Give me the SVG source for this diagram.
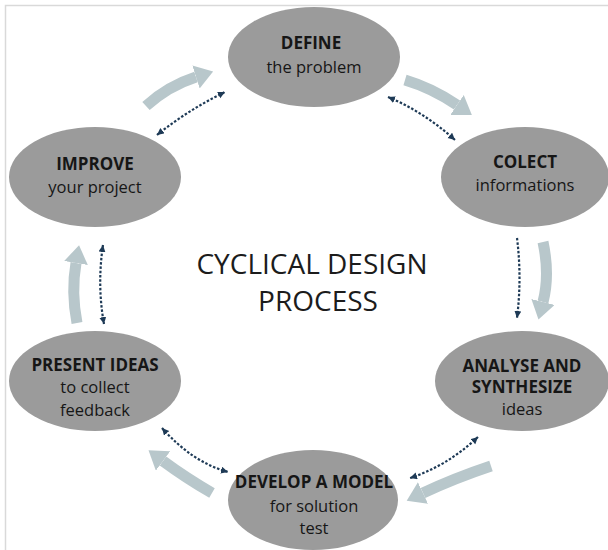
<svg xmlns="http://www.w3.org/2000/svg" width="608" height="550" viewBox="0 0 608 550">
  <defs>
    <style>
      .node ellipse { fill: #9b9b9b; }
      .node text { font-family: "Open Sans", "Liberation Sans", sans-serif; font-size: 16.5px; fill: #161616; text-anchor: middle; }
      .node .head { font-weight: 700; font-size: 17px; }
      .flow { fill: none; stroke: #b8c7cb; stroke-width: 11; }
      .link { fill: none; stroke: #1e3a56; stroke-width: 2.2; stroke-dasharray: 2.5 1.8; }
      .title { font-family: "Open Sans", "Liberation Sans", sans-serif; font-size: 28px; fill: #1c1c1c; text-anchor: middle; }
    </style>
    <marker id="flowHead" markerUnits="userSpaceOnUse" markerWidth="20" markerHeight="24" refX="0" refY="12" orient="auto">
      <path d="M0,0 L18,12 L0,24 z" fill="#b8c7cb"/>
    </marker>
    <marker id="linkHead" markerUnits="userSpaceOnUse" markerWidth="8" markerHeight="8" refX="7" refY="3.5" orient="auto-start-reverse">
      <path d="M0,0 L7,3.5 L0,7 z" fill="#1e3a56"/>
    </marker>
  </defs>

  <rect width="608" height="550" fill="#ffffff"/>
  <!-- frame edges -->
  <path d="M5.5,550 V5.5 H608" fill="none" stroke="#d9d9d9" stroke-width="1.5"/>

  <!-- connectors -->
  <g id="connectors">
    <!-- main cycle flow -->
    <path class="flow" d="M146,106 Q168,86 196,77" marker-end="url(#flowHead)"/>
    <path class="flow" d="M405,80 Q432,88 457,105" marker-end="url(#flowHead)"/>
    <path class="flow" d="M543,242 Q550,275 543,302" marker-end="url(#flowHead)"/>
    <path class="flow" d="M491,466 Q455,478 423,493" marker-end="url(#flowHead)"/>
    <path class="flow" d="M212,493 Q186,478 163,461" marker-end="url(#flowHead)"/>
    <path class="flow" d="M77,323 Q71,292 76,263" marker-end="url(#flowHead)"/>
    <!-- feedback links -->
    <path class="link" d="M157,135 Q188,110 225,92" marker-start="url(#linkHead)" marker-end="url(#linkHead)"/>
    <path class="link" d="M388,97 Q424,112 455,140" marker-start="url(#linkHead)" marker-end="url(#linkHead)"/>
    <path class="link" d="M517,238 Q522,278 517,318" marker-end="url(#linkHead)"/>
    <path class="link" d="M478,437 Q447,466 410,478" marker-start="url(#linkHead)" marker-end="url(#linkHead)"/>
    <path class="link" d="M162,428 Q192,462 228,472" marker-start="url(#linkHead)" marker-end="url(#linkHead)"/>
    <path class="link" d="M103,245 Q97,285 104,324" marker-start="url(#linkHead)" marker-end="url(#linkHead)"/>
  </g>

  <g id="define" class="node">
    <ellipse cx="314" cy="57" rx="86" ry="50"/>
    <text class="head" x="311" y="49">DEFINE</text>
    <text x="314" y="73">the problem</text>
  </g>

  <g id="collect" class="node">
    <ellipse cx="525" cy="177" rx="84" ry="50"/>
    <text class="head" x="525" y="168">COLECT</text>
    <text x="525" y="191">informations</text>
  </g>

  <g id="analyse" class="node">
    <ellipse cx="522" cy="381" rx="87" ry="50"/>
    <text class="head" x="522" y="372">ANALYSE AND</text>
    <text class="head" x="522" y="393">SYNTHESIZE</text>
    <text x="522" y="415">ideas</text>
  </g>

  <g id="develop" class="node">
    <ellipse cx="313" cy="500" rx="85" ry="50"/>
    <text class="head" x="314" y="488">DEVELOP A MODEL</text>
    <text x="314" y="512">for solution</text>
    <text x="314" y="534">test</text>
  </g>

  <g id="present" class="node">
    <ellipse cx="95" cy="381" rx="86" ry="50"/>
    <text class="head" x="95" y="371">PRESENT IDEAS</text>
    <text x="95" y="393">to collect</text>
    <text x="95" y="416">feedback</text>
  </g>

  <g id="improve" class="node">
    <ellipse cx="95" cy="177" rx="86" ry="50"/>
    <text class="head" x="95" y="170">IMPROVE</text>
    <text x="95" y="193">your project</text>
  </g>

  <g id="title">
    <text class="title" x="312" y="274">CYCLICAL DESIGN</text>
    <text class="title" x="318" y="311">PROCESS</text>
  </g>
</svg>
